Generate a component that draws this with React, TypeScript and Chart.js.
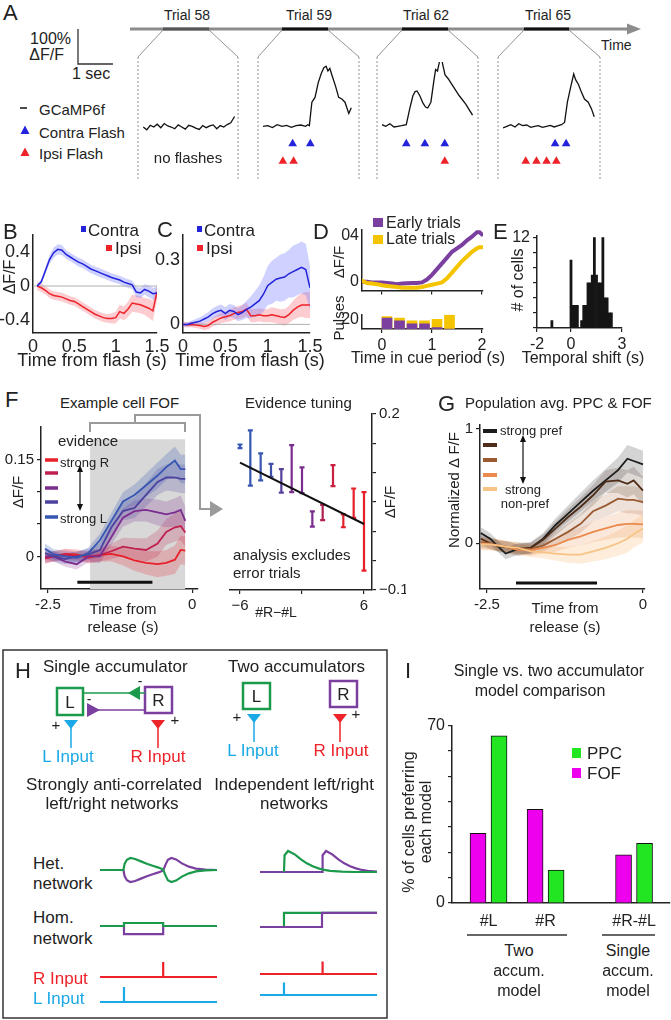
import React, { useEffect, useRef } from "react";
import { Chart, registerables } from "chart.js";
Chart.register(...registerables);

const FONT = "'Liberation Sans', Arial, Helvetica, sans-serif";
Chart.defaults.font.family = FONT;
Chart.defaults.color = "#222";

// ================= DATA =================
// Panel A: single-trial GCaMP6f traces (time s, ΔF/F in units of 100%)
const trial58T = [0.15,0.25,0.35,0.45,0.55,0.65,0.75,0.85,0.95,1.05,1.15,1.25,1.35,1.45,1.55,1.65,1.75,1.85,1.95,2.05,2.15,2.25,2.35,2.45,2.55,2.65,2.76];
const trial58V = [0.0,-0.08,0.05,0.0,0.08,-0.02,0.1,0.03,0.0,-0.05,0.06,0.0,-0.06,0.05,0.02,-0.03,-0.07,0.04,-0.02,0.03,0.06,-0.05,0.04,0.0,0.07,0.12,0.3];
const trial59T = [0.0,0.15,0.3,0.45,0.6,0.75,0.9,1.05,1.2,1.35,1.42,1.47,1.55,1.65,1.75,1.85,1.93,2.0,2.06,2.12,2.2,2.3,2.4,2.5,2.6,2.72,2.8];
const trial59V = [0.0,0.02,-0.04,0.05,0.0,0.03,-0.03,0.02,0.04,0.0,0.05,0.02,0.75,0.9,1.35,1.65,1.82,1.87,1.72,1.8,1.55,1.25,0.9,0.85,0.75,0.4,0.58];
const trial62T = [0.0,0.12,0.25,0.38,0.5,0.62,0.77,0.88,0.98,1.05,1.11,1.2,1.3,1.38,1.45,1.55,1.65,1.7,1.76,1.82,1.86,1.92,2.0,2.1,2.25,2.45,2.65,2.87];
const trial62V = [0.05,0.0,0.08,-0.02,0.0,0.02,0.05,0.55,0.95,1.08,1.1,0.95,0.72,0.6,0.57,0.75,1.45,1.77,1.72,2.0,2.4,1.95,1.6,1.48,1.25,0.95,0.7,0.35];
const trial65T = [0.0,0.12,0.25,0.38,0.5,0.62,0.75,0.88,1.0,1.12,1.25,1.38,1.5,1.62,1.75,1.85,1.95,2.04,2.14,2.24,2.3,2.39,2.47,2.58,2.7,2.8,2.89];
const trial65V = [-0.05,0.0,0.05,-0.02,0.08,0.02,0.04,-0.03,0.0,0.02,-0.03,0.0,0.03,-0.02,0.02,0.05,0.12,0.75,1.2,1.63,1.45,1.3,1.1,0.85,0.75,0.55,0.3];
const trial58Contra: number[] = [];
const trial58Ipsi: number[] = [];
const trial59Contra = [0.94, 1.5];
const trial59Ipsi = [0.63, 0.97];
const trial62Contra = [0.77, 1.36, 1.99];
const trial62Ipsi = [1.99];
const trial65Contra = [1.65, 2.0];
const trial65Ipsi = [0.72, 1.06, 1.38, 1.69];
const trialLabels = ["Trial 58", "Trial 59", "Trial 62", "Trial 65"];

// Panel B
const bT = [0.05,0.1,0.15,0.2,0.25,0.3,0.35,0.4,0.45,0.5,0.55,0.6,0.65,0.7,0.75,0.8,0.85,0.9,0.95,1.0,1.05,1.1,1.15,1.2,1.25,1.3,1.35,1.4,1.45,1.5];
const bContra = [0,0.05,0.18,0.31,0.39,0.43,0.42,0.37,0.34,0.31,0.28,0.26,0.23,0.2,0.18,0.16,0.14,0.12,0.1,0.085,0.07,0.046,0.03,0.015,-0.07,-0.08,-0.04,-0.06,-0.09,-0.08];
const bContraErr = [0.02,0.03,0.04,0.05,0.06,0.06,0.06,0.05,0.05,0.05,0.05,0.05,0.05,0.05,0.05,0.05,0.05,0.05,0.05,0.05,0.05,0.05,0.05,0.05,0.06,0.06,0.06,0.07,0.07,0.07];
const bIpsi = [0,-0.02,-0.05,-0.09,-0.11,-0.12,-0.13,-0.15,-0.17,-0.18,-0.21,-0.24,-0.27,-0.3,-0.33,-0.35,-0.37,-0.38,-0.38,-0.37,-0.3,-0.32,-0.27,-0.2,-0.21,-0.22,-0.24,-0.26,-0.29,-0.07];
const bIpsiErr = [0.05,0.05,0.05,0.05,0.05,0.05,0.05,0.05,0.05,0.05,0.05,0.05,0.05,0.05,0.05,0.05,0.05,0.05,0.06,0.07,0.08,0.08,0.09,0.1,0.1,0.1,0.1,0.11,0.12,0.1];

// Panel C
const cT = [0,0.05,0.1,0.15,0.2,0.25,0.3,0.35,0.4,0.45,0.5,0.55,0.6,0.65,0.7,0.75,0.8,0.85,0.9,0.95,1.0,1.05,1.1,1.15,1.2,1.25,1.3,1.35,1.4,1.45,1.5];
const cContra = [0,0,0.005,0.01,0.015,0.025,0.035,0.05,0.06,0.065,0.05,0.065,0.06,0.045,0.055,0.07,0.08,0.095,0.11,0.14,0.18,0.195,0.21,0.215,0.22,0.235,0.245,0.255,0.265,0.255,0.17];
const cContraErr = [0.01,0.01,0.012,0.015,0.018,0.02,0.022,0.025,0.025,0.027,0.03,0.03,0.03,0.03,0.035,0.04,0.05,0.06,0.07,0.08,0.09,0.1,0.1,0.11,0.11,0.11,0.12,0.12,0.12,0.12,0.1];
const cIpsi = [0,-0.002,0,-0.003,-0.005,-0.01,-0.005,0.01,0.02,0.03,0.035,0.04,0.05,0.055,0.06,0.07,0.04,0.04,0.045,0.04,0.04,0.045,0.04,0.035,0.032,0.045,0.065,0.08,0.09,0.09,0.09];
const cIpsiErr = [0.012,0.012,0.013,0.014,0.015,0.017,0.018,0.02,0.022,0.025,0.025,0.027,0.028,0.03,0.03,0.03,0.03,0.03,0.03,0.03,0.03,0.035,0.035,0.035,0.04,0.04,0.045,0.05,0.055,0.06,0.06];
const flashZeroT = [0, 1.5];
const flashZeroV = [0, 0];

// Panel D
const dT = [-0.4,-0.3,-0.2,-0.1,0,0.1,0.2,0.3,0.4,0.5,0.6,0.7,0.8,0.9,1.0,1.1,1.2,1.3,1.4,1.5,1.6,1.7,1.8,1.9,1.95,2.0];
const dEarly = [0,0,-0.005,-0.005,-0.005,-0.01,-0.015,-0.02,-0.015,-0.012,-0.01,-0.01,-0.005,0.02,0.06,0.11,0.16,0.21,0.26,0.29,0.32,0.36,0.39,0.43,0.43,0.41];
const dLate = [0.01,-0.01,-0.015,-0.02,-0.03,-0.035,-0.04,-0.045,-0.05,-0.05,-0.05,-0.05,-0.045,-0.035,-0.025,-0.015,-0.005,0.03,0.08,0.13,0.18,0.22,0.26,0.29,0.3,0.3];
const dPulseT = [0.1,0.35,0.6,0.85,1.1,1.35];
const dEarlyPulses = [23,17,11,11,3,0];
const dLatePulses = [26,23,17,17,20,29];

// Panel E
const eBins = [-1.125,0,0.125,0.25,0.375,0.5,0.625,0.75,0.875,1.0,1.125,1.25,1.375,1.5,1.625,1.75,1.875,2.0,2.125,2.25,2.375];
const eCounts = [1,9,3,3,3,0,1,3,3,6,6,7,12,7,6,6,12,4,4,2,2];

// Panel F (left): example cell, 5 evidence levels
const fT = [-2.55,-2.4,-2.2,-2.0,-1.8,-1.6,-1.4,-1.2,-1.0,-0.8,-0.6,-0.45,-0.3,-0.2,-0.12];
const fStrongL = [0.012,0.003,0,-0.002,0.005,0.025,0.055,0.085,0.095,0.11,0.125,0.138,0.148,0.135,0.135];
const fMidL = [0.005,0,-0.004,0,0.003,0.01,0.045,0.07,0.075,0.095,0.115,0.122,0.122,0.12,0.12];
const fNeutral = [0,0,-0.008,-0.012,0,0,0.03,0.06,0.07,0.072,0.068,0.065,0.068,0.072,0.055];
const fMidR = [-0.003,0,0.003,0,0,0.002,0.008,0.015,0.012,0.01,0.02,0.038,0.045,0.047,0.037];
const fStrongR = [-0.003,0,0.004,0.003,-0.002,0.002,0.004,0,-0.006,-0.01,-0.012,-0.01,-0.005,0.01,0.009];
const fErr = [0.008,0.008,0.008,0.008,0.009,0.01,0.012,0.014,0.016,0.018,0.02,0.02,0.022,0.022,0.022];
const fShadeT = [-1.77, -0.12];
const fShadeV = [0.181, 0.181];
const fBarT = [-1.99, -0.69];
const fBarV = [-0.04, -0.04];

// Panel F (right): evidence tuning
const tunX = [-6,-5,-4,-3,-2,-1,0,1,2,3,4,5,6];
const tunY = [0.145,0.125,0.11,0.104,0.086,0.107,0.087,0.021,0.032,0.095,0.018,0.048,0.0];
const tunErr = [0.003,0.047,0.023,0.011,0.02,0.04,0.022,0.013,0.013,0.018,0.011,0.025,0.067];
const fitX = [-6, 6];
const fitY = [0.117, 0.0125];

// Panel G
const gT = [-2.6,-2.45,-2.3,-2.2,-2.0,-1.8,-1.6,-1.4,-1.2,-1.0,-0.8,-0.6,-0.4,-0.25,-0.15,0];
const gPref = [0.09,0.04,-0.04,-0.09,-0.05,-0.04,0.04,0.16,0.26,0.36,0.46,0.55,0.64,0.74,0.72,0.69];
const gPref2 = [0.04,0,-0.03,-0.03,-0.06,-0.04,0.03,0.13,0.23,0.32,0.42,0.54,0.55,0.52,0.55,0.46];
const gMid = [0.01,0,-0.02,-0.03,-0.04,-0.05,-0.02,0.04,0.1,0.17,0.28,0.33,0.39,0.38,0.38,0.36];
const gNon2 = [0,-0.01,-0.02,-0.03,-0.06,-0.06,-0.04,-0.015,0.03,0.06,0.1,0.13,0.16,0.17,0.17,0.165];
const gNonPref = [-0.01,-0.01,-0.02,-0.03,-0.04,-0.07,-0.08,-0.09,-0.1,-0.1,-0.07,-0.04,0,0.04,0.08,0.13];
const gErr = [0.05,0.05,0.05,0.05,0.05,0.05,0.05,0.06,0.07,0.08,0.09,0.1,0.11,0.12,0.12,0.12];
const gBarT = [-2.035, -0.737];
const gBarV = [-0.348, -0.348];

// Panel H: model schematic traces (time 0..1, arbitrary units)
const hetSingleT = [0,0.2,0.21,0.23,0.26,0.3,0.35,0.4,0.45,0.5,0.54,0.56,0.58,0.61,0.65,0.7,0.76,0.82,0.9,1.0];
const hetSingleL = [0,0,0.5,0.85,1.0,0.92,0.72,0.52,0.36,0.2,0.04,-0.45,-0.85,-1.0,-0.88,-0.55,-0.28,-0.12,-0.03,0];
const hetSingleR = [0,0,-0.5,-0.85,-1.0,-0.92,-0.72,-0.52,-0.36,-0.2,-0.04,0.45,0.85,1.0,0.88,0.55,0.28,0.12,0.03,0];
const hetTwoLT = [0.205,0.21,0.24,0.3,0.35,0.4,0.45,0.5,0.55,0.6,0.7,0.8,1.0];
const hetTwoL = [0,1.4,1.75,1.45,1.05,0.72,0.48,0.3,0.17,0.09,0.03,0,0];
const hetTwoRT = [0,0.53,0.535,0.565,0.62,0.67,0.72,0.77,0.82,0.87,0.92,1.0];
const hetTwoR = [0,0,1.4,1.75,1.45,1.05,0.72,0.48,0.3,0.17,0.09,0.04];
const homSingleT = [0,0.205,0.205,0.54,0.54,1];
const homSingleL = [0,0,0.25,0.25,0,0];
const homSingleR = [0,0,-0.67,-0.67,0,0];
const homTwoLT = [0.205,0.205,1.0];
const homTwoL = [0,1.17,1.17];
const homTwoRT = [0,0.53,0.53,1.0];
const homTwoR = [0,0,1.17,1.17];
const inSingleRT = [0,0.54,0.54,0.54,1];
const inSingleLT = [0,0.205,0.205,0.205,1];
const inTwoRT = [0,0.535,0.535,0.535,1];
const inTwoLT = [0,0.205,0.205,0.205,1];
const inPulse = [0,0,1.25,0,0];
const inPulseSmall = [0,0,1.05,0,0];

// Panel I
const iCats = ["#L", "#R", "#R-#L"];
const iPos = [1, 2, 3.55];
const iFOF = [27.5, 37, 19];
const iPPC = [66, 13, 23.5];

// ================= STYLE =================
const BLUE = "#2323dc";
const BLUE_BAND = "rgba(110,115,255,0.33)";
const RED = "#ee2229";
const RED_BAND = "rgba(245,110,120,0.35)";
const PURPLE = "#7b3fa0";
const YELLOW = "#f5c400";
const GREEN_H = "#1b9a4b";
const CYAN = "#1aa8e6";
const F_COLORS = ["#3656b2", "#4a429e", "#7a2d8e", "#c0204e", "#e8202a"];
const G_COLORS = ["#1c1c1c", "#4e2c18", "#9a5a32", "#ea8a4c", "#f8c486"];
const TUN_COLORS = ["#3656b2","#3656b2","#3656b2","#3f4faa","#55409c","#7a2d8e","#7a2d8e","#7a2d8e","#b0204e","#c8203e","#e0202a","#e8202a","#e8202a"];
const PPC = "#22e622";
const FOF = "#ee00ee";

// ================= HELPERS =================
const pts = (xs: number[], ys: number[]) => xs.map((x, i) => ({ x, y: ys[i] }));
function line(xs: number[], ys: number[], color: string, width: number, extra: any = {}) {
  return { type: "line", data: pts(xs, ys), borderColor: color, borderWidth: width, pointRadius: 0, fill: false, tension: 0, order: 1, ...extra };
}
function band(xs: number[], ys: number[], err: number[], color: string) {
  return [
    { type: "line", data: pts(xs, ys.map((y, i) => y + err[i])), borderWidth: 0, borderColor: "rgba(0,0,0,0)", pointRadius: 0, backgroundColor: color, fill: "+1", order: 5 },
    { type: "line", data: pts(xs, ys.map((y, i) => y - err[i])), borderWidth: 0, borderColor: "rgba(0,0,0,0)", pointRadius: 0, fill: false, order: 5 },
  ];
}
function marks(xs: number[], row: number, color: string) {
  return { type: "line", data: xs.map((x) => ({ x, y: row })), showLine: false, pointStyle: "triangle", pointRadius: 5, backgroundColor: color, borderColor: color, borderWidth: 0, yAxisID: "yr" };
}
const hidden = (min: number, max: number, extra: any = {}) => ({ type: "linear", min, max, display: false, offset: false, ...extra });
function axis(min: number, max: number, o: any) {
  return {
    type: "linear", min, max, position: o.position, offset: false,
    afterFit: (s: any) => { if (s.isHorizontal()) s.height = o.size; else s.width = o.size; },
    afterBuildTicks: (s: any) => { s.ticks = (o.at || []).map((v: number) => ({ value: v })); },
    ticks: { display: !!o.labels, callback: (_v: any, i: number) => (o.labels ? o.labels[i] ?? "" : ""), font: { size: o.font || 15, family: FONT }, color: "#222", padding: o.pad ?? 3, autoSkip: false, maxRotation: 0, minRotation: 0 },
    grid: { display: !!o.marks, drawOnChartArea: false, drawTicks: !!o.marks, tickLength: 4, color: "#222", lineWidth: 1.2, offset: false },
    border: { display: true, color: "#222", width: 1.5 },
  };
}
function cfg(type: string, datasets: any[], scales: any, padding: any, plugins: any[] = []) {
  return {
    type, data: { datasets }, plugins,
    options: { animation: false, responsive: false, devicePixelRatio: 1, events: [], layout: { padding },
      plugins: { legend: { display: false }, tooltip: { enabled: false } }, scales },
  };
}

function Panel({ rect, pads, config }: { rect: number[]; pads: number[]; config: any }) {
  const ref = useRef<HTMLCanvasElement>(null);
  const [l, t, r, b] = rect;
  const w = r - l + pads[0] + pads[2];
  const h = b - t + pads[1] + pads[3];
  useEffect(() => {
    const c = new Chart(ref.current as HTMLCanvasElement, config);
    return () => c.destroy();
  }, []);
  return <canvas ref={ref} width={w} height={h} style={{ position: "absolute", left: l - pads[0], top: t - pads[1], width: w, height: h }} />;
}

function T({ x, y, s = 15, c = "#222", a = "l", rot = false, children }: any) {
  const tx = a === "l" ? "0" : a === "c" ? "-50%" : "-100%";
  return (
    <div style={{ position: "absolute", left: x, top: y, fontSize: s, color: c, whiteSpace: "nowrap", lineHeight: 1, fontFamily: FONT,
      transform: rot ? "translate(-50%,-50%) rotate(-90deg)" : `translate(${tx},-50%)` }}>{children}</div>
  );
}

// ================= LAYOUT (page px) =================
const A_BOXES = [[138, 238], [258, 359], [377, 478], [498, 600]];
const A_SEGS = [[163, 209], [282, 328], [402, 448], [524, 569]];
const A_LABEL_X = [187, 309, 426, 548];
const A_TOP = 57, A_BOT = 180, PX_PER_S = 35;

const aTraces = [
  [trial58T, trial58V, trial58Contra, trial58Ipsi],
  [trial59T, trial59V, trial59Contra, trial59Ipsi],
  [trial62T, trial62V, trial62Contra, trial62Ipsi],
  [trial65T, trial65V, trial65Contra, trial65Ipsi],
];

function aConfig(i: number) {
  const [t, v, con, ips] = aTraces[i] as any;
  const w = A_BOXES[i][1] - A_BOXES[i][0];
  return cfg("line", [line(t, v, "#111", 1.3), marks(con, 1, BLUE), marks(ips, 2, RED)], {
    x: hidden(0, w / PX_PER_S), y: hidden(-1.514, 2.0), yr: hidden(-3.684, 2.789, { reverse: true }),
  }, 0);
}

const errorBars = {
  id: "errbars",
  beforeDatasetsDraw(chart: any) {
    const ctx = chart.ctx, xs = chart.scales.x, ys = chart.scales.y;
    tunX.forEach((x, i) => {
      const px = xs.getPixelForValue(x);
      const lo = ys.getPixelForValue(tunY[i] - tunErr[i]);
      const hi = ys.getPixelForValue(tunY[i] + tunErr[i]);
      ctx.save();
      ctx.strokeStyle = TUN_COLORS[i];
      ctx.lineWidth = 2.2;
      ctx.beginPath();
      ctx.moveTo(px, lo); ctx.lineTo(px, hi);
      ctx.moveTo(px - 2.5, lo); ctx.lineTo(px + 2.5, lo);
      ctx.moveTo(px - 2.5, hi); ctx.lineTo(px + 2.5, hi);
      ctx.stroke();
      ctx.restore();
    });
  },
};

const bCfg = cfg("line", [
  ...band(bT, bContra, bContraErr, BLUE_BAND), ...band(bT, bIpsi, bIpsiErr, RED_BAND),
  line(flashZeroT, flashZeroV, "#b0b0b0", 1, { order: 3 }),
  line(bT, bContra, BLUE, 1.5), line(bT, bIpsi, RED, 1.5),
], {
  x: axis(0, 1.5, { size: 30, at: [0, 0.5, 1, 1.5], labels: ["0", "0.5", "1", "1.5"], font: 18 }),
  y: axis(-0.55, 0.6, { size: 33, at: [-0.4, 0, 0.4], labels: ["-0.4", "0", "0.4"], font: 18 }),
}, { top: 10, right: 16, left: 0, bottom: 0 });

const cCfg = cfg("line", [
  ...band(cT, cContra, cContraErr, BLUE_BAND), ...band(cT, cIpsi, cIpsiErr, RED_BAND),
  line(flashZeroT, flashZeroV, "#b0b0b0", 1, { order: 3 }),
  line(cT, cContra, BLUE, 1.5), line(cT, cIpsi, RED, 1.5),
], {
  x: axis(0, 1.5, { size: 30, at: [0, 0.5, 1, 1.5], labels: ["0", "0.5", "1", "1.5"], font: 18 }),
  y: axis(-0.04, 0.416, { size: 30, at: [0, 0.3], labels: ["0", "0.3"], font: 18 }),
}, { top: 10, right: 16, left: 0, bottom: 0 });

const dTopCfg = cfg("line", [
  line(dT, dLate, YELLOW, 4, { borderCapStyle: "round" }), line(dT, dEarly, PURPLE, 4, { borderCapStyle: "round" }),
], {
  x: axis(-0.4, 2.02, { size: 5, at: [0, 1, 2], marks: true }),
  y: axis(-0.074, 0.452, { size: 30, at: [0, 0.4], labels: ["0", "04"], font: 16 }),
}, { top: 10, right: 10, left: 0, bottom: 0 });

const dBotCfg = cfg("bar", [
  { data: pts(dPulseT, dEarlyPulses), backgroundColor: PURPLE, barThickness: 10, grouped: false },
  { data: pts(dPulseT, dLatePulses), backgroundColor: YELLOW, barThickness: 10, grouped: false },
], {
  x: axis(-0.4, 2.02, { size: 28, at: [0, 1, 2], labels: ["0", "1", "2"], font: 16, marks: true }),
  y: axis(0, 30, { size: 30, at: [20], labels: ["20"], font: 16 }),
}, { top: 6, right: 12, left: 0, bottom: 0 });

const eCfg = cfg("bar", [
  { data: pts(eBins, eCounts), backgroundColor: "#151515", barPercentage: 1, categoryPercentage: 1 },
], {
  x: axis(-2, 3, { size: 28, at: [-2, 0, 3], labels: ["-2", "0", "3"], font: 16, marks: true }),
  y: axis(0, 12.25, { size: 25, at: [0, 2, 4, 6, 8, 10, 12], labels: ["", "", "", "", "", "", "12"], font: 16, marks: true }),
}, { top: 10, right: 12, left: 0, bottom: 0 });

const fSeries = [fStrongL, fMidL, fNeutral, fMidR, fStrongR];
const fBandColors = ["rgba(54,86,178,0.25)", "rgba(74,66,158,0.22)", "rgba(122,45,142,0.22)", "rgba(192,32,78,0.22)", "rgba(232,32,42,0.22)"];
const fLeftCfg = cfg("line", [
  line(fShadeT, fShadeV, "rgba(0,0,0,0)", 0, { fill: "start", backgroundColor: "#d8d8d8", order: 10 }),
  ...fSeries.flatMap((s, i) => band(fT, s, fErr, fBandColors[i])),
  ...fSeries.map((s, i) => line(fT, s, F_COLORS[i], 1.8)),
  line(fBarT, fBarV, "#111", 3, { order: 0 }),
], {
  x: axis(-2.62, 0.1, { size: 22, at: [-2.5, 0], labels: ["-2.5", "0"], font: 15, marks: true }),
  y: axis(-0.0503, 0.2, { size: 40, at: [0, 0.05, 0.1, 0.15], labels: ["0", "", "", "0.15"], font: 15, marks: true }),
}, { top: 10, right: 10, left: 0, bottom: 0 });

const fRightCfg = cfg("line", [
  line(fitX, fitY, "#111", 2),
], {
  x: axis(-6.968, 6.774, { size: 22, at: [-6, 0, 6], labels: ["\u22126", "", "6"], font: 15, marks: true }),
  y: axis(-0.1, 0.2, { size: 34, position: "right", at: [-0.1, -0.05, 0, 0.05, 0.1, 0.15, 0.2], labels: ["\u22120.1", "", "", "", "", "", "0.2"], font: 15, marks: true }),
}, { top: 10, right: 0, left: 10, bottom: 0 }, [errorBars]);

const gSeries = [gPref, gPref2, gMid, gNon2, gNonPref];
const gBandColors = ["rgba(40,40,40,0.2)", "rgba(78,44,24,0.18)", "rgba(154,90,50,0.18)", "rgba(234,138,76,0.2)", "rgba(248,196,134,0.3)"];
const gCfg = cfg("line", [
  ...gSeries.flatMap((s, i) => band(gT, s, gErr, gBandColors[i])),
  ...gSeries.map((s, i) => line(gT, s, G_COLORS[i], 1.8)).reverse(),
  line(gBarT, gBarV, "#111", 3, { order: 0 }),
], {
  x: axis(-2.612, 0.032, { size: 22, at: [-2.5, 0], labels: ["-2.5", "0"], font: 15, marks: true }),
  y: axis(-0.4, 1.035, { size: 26, at: [0, 1], labels: ["0", "1"], font: 15, marks: true }),
}, { top: 10, right: 12, left: 0, bottom: 0 });

const I_HALF = 0.184;
const iCfg = cfg("bar", [
  { data: pts(iPos.map((p) => p - I_HALF), iFOF), backgroundColor: FOF, borderColor: "#111", borderWidth: 1, barThickness: 16, grouped: false },
  { data: pts(iPos.map((p) => p + I_HALF), iPPC), backgroundColor: PPC, borderColor: "#111", borderWidth: 1, barThickness: 16, grouped: false },
], {
  x: axis(0.36, 4.18, { size: 30, at: iPos, labels: iCats, font: 16, pad: 9 }),
  y: axis(0, 70, { size: 24, at: [0, 10, 20, 30, 40, 50, 60, 70], labels: ["0", "", "", "", "", "", "", "70"], font: 16, marks: true }),
}, { top: 10, right: 1, left: 0, bottom: 0 });

function hCfg(sets: any[], lo: number, hi: number) {
  return cfg("line", sets, { x: hidden(0, 1), y: hidden(lo, hi) }, 0);
}
const H_CHARTS: any[] = [
  { rect: [100, 846, 217, 894], config: hCfg([line(hetSingleT, hetSingleR, PURPLE, 2.2, { order: 2 }), line(hetSingleT, hetSingleL, GREEN_H, 2.2)], -2, 2) },
  { rect: [100, 902, 217, 950], config: hCfg([line(homSingleT, homSingleR, PURPLE, 2.2, { order: 2 }), line(homSingleT, homSingleL, GREEN_H, 2.2)], -2, 2) },
  { rect: [100, 959, 217, 983], config: hCfg([line(inSingleRT, inPulse, RED, 2.2)], -0.5, 1.5) },
  { rect: [100, 984, 217, 1008], config: hCfg([line(inSingleLT, inPulse, CYAN, 2.2)], -0.5, 1.5) },
  { rect: [260, 848, 377, 896], config: hCfg([line(hetTwoRT, hetTwoR, PURPLE, 2.2, { order: 2 }), line(hetTwoLT, hetTwoL, GREEN_H, 2.2)], -2, 2) },
  { rect: [260, 903, 377, 951], config: hCfg([line(homTwoLT, homTwoL, GREEN_H, 2.2, { order: 2 }), line(homTwoRT, homTwoR, PURPLE, 2.2)], -2, 2) },
  { rect: [260, 956, 377, 980], config: hCfg([line(inTwoRT, inPulseSmall, RED, 2.2)], -0.5, 1.5) },
  { rect: [260, 977, 377, 1001], config: hCfg([line(inTwoLT, inPulseSmall, CYAN, 2.2)], -0.5, 1.5) },
];

function Decor() {
  const g = "#8c8c8c";
  return (
    <svg width={671} height={1020} style={{ position: "absolute", left: 0, top: 0 }}>
      {/* A: timeline */}
      <line x1={130} y1={29} x2={630} y2={29} stroke={g} strokeWidth={3} />
      <polygon points="627,23.5 641,29 627,34.5" fill={g} />
      {A_SEGS.map(([a, b], i) => <line key={"s" + i} x1={a} y1={29} x2={b} y2={29} stroke={i === 0 ? "#555" : "#111"} strokeWidth={3} />)}
      {A_BOXES.map(([a, b], i) => (
        <g key={"b" + i} stroke="#777" strokeWidth={0.8} fill="none">
          <line x1={A_SEGS[i][0]} y1={30} x2={a} y2={A_TOP} />
          <line x1={A_SEGS[i][1]} y1={30} x2={b} y2={A_TOP} />
          <line x1={a} y1={A_TOP} x2={a} y2={A_BOT} strokeDasharray="2 2" />
          <line x1={b} y1={A_TOP} x2={b} y2={A_BOT} strokeDasharray="2 2" />
        </g>
      ))}
      <path d="M78 29 V64 H113" stroke="#333" strokeWidth={1.3} fill="none" />
      <line x1={20} y1={108} x2={27} y2={108} stroke="#111" strokeWidth={1.5} />
      <polygon points="20.5,134 29.5,134 25,125.5" fill={BLUE} />
      <polygon points="20.5,156 29.5,156 25,147.5" fill={RED} />
      {/* B, C, D legends */}
      <rect x={81} y={226} width={5} height={6} fill={BLUE} />
      <rect x={106} y={245} width={6} height={6} fill={RED} />
      <rect x={197} y={226} width={5} height={6} fill={BLUE} />
      <rect x={197} y={245} width={6} height={6} fill={RED} />
      <rect x={373} y={218} width={10} height={9} fill={PURPLE} />
      <rect x={373} y={235} width={10} height={9} fill={YELLOW} />
      {/* F decorations */}
      <path d="M90 432 V423 H185 V432" stroke="#9a9a9a" strokeWidth={2} fill="none" />
      <path d="M135 423 V415 H200 V509 H211" stroke="#9a9a9a" strokeWidth={2} fill="none" />
      <polygon points="210,501 223,509 210,517" fill="#9a9a9a" />
      {F_COLORS.slice().reverse().map((c, i) => <line key={"fl" + i} x1={45} x2={58} y1={[460, 473, 488, 502, 517][i]} y2={[460, 473, 488, 502, 517][i]} stroke={c} strokeWidth={3.5} />)}
      <line x1={80} y1={469} x2={80} y2={507} stroke="#111" strokeWidth={1.2} />
      <polygon points="77,472 80,465 83,472" fill="#111" />
      <polygon points="77,504 80,511 83,504" fill="#111" />
      {/* G legend */}
      {G_COLORS.map((c, i) => <line key={"gl" + i} x1={483} x2={497} y1={[431, 445, 460, 475, 489][i]} y2={[431, 445, 460, 475, 489][i]} stroke={c} strokeWidth={4} />)}
      <line x1={523} y1={440} x2={523} y2={479} stroke="#111" strokeWidth={1.2} />
      <polygon points="520,442 523,435 526,442" fill="#111" />
      <polygon points="520,477 523,484 526,477" fill="#111" />
      {/* H box and schematic */}
      <rect x={3} y={650} width={384} height={368} stroke="#333" strokeWidth={1.5} fill="none" />
      <rect x={57} y={688} width={26} height={27} stroke={GREEN_H} strokeWidth={2.5} fill="none" />
      <rect x={145} y={687} width={27} height={26} stroke={PURPLE} strokeWidth={2.5} fill="none" />
      <line x1={83} y1={693} x2={145} y2={693} stroke={GREEN_H} strokeWidth={1.6} />
      <polygon points="128,693 140,686 140,700" fill={GREEN_H} />
      <line x1={95} y1={710} x2={145} y2={710} stroke={PURPLE} strokeWidth={1.6} />
      <polygon points="87,703 87,717 100,710" fill={PURPLE} />
      <polygon points="64,720 78,720 71,729" fill={CYAN} />
      <line x1={71} y1={728} x2={71} y2={748} stroke={CYAN} strokeWidth={1.5} />
      <polygon points="151,720 165,720 158,729" fill={RED} />
      <line x1={158} y1={728} x2={158} y2={748} stroke={RED} strokeWidth={1.5} />
      <rect x={243} y={683} width={27} height={26} stroke={GREEN_H} strokeWidth={2.5} fill="none" />
      <rect x={330} y={681} width={27} height={26} stroke={PURPLE} strokeWidth={2.5} fill="none" />
      <polygon points="247,714 261,714 254,723" fill={CYAN} />
      <line x1={254} y1={722} x2={254} y2={742} stroke={CYAN} strokeWidth={1.5} />
      <polygon points="333,714 347,714 340,723" fill={RED} />
      <line x1={340} y1={722} x2={340} y2={742} stroke={RED} strokeWidth={1.5} />
      {/* I decorations */}
      <line x1={467} y1={935} x2={567} y2={935} stroke="#333" strokeWidth={1.5} />
      <line x1={602} y1={935} x2={655} y2={935} stroke="#333" strokeWidth={1.5} />
      <rect x={572} y={748} width={9} height={10} fill={PPC} />
      <rect x={572} y={768} width={9} height={10} fill={FOF} />
    </svg>
  );
}

export default function App() {
  return (
    <div style={{ position: "absolute", left: 0, top: 0, width: 671, height: 1020, overflow: "hidden", background: "#fff", fontFamily: FONT }}>
      <Decor />
      {A_BOXES.map(([a, b], i) => <Panel key={"a" + i} rect={[a, A_TOP, b, A_BOT]} pads={[0, 0, 0, 0]} config={aConfig(i)} />)}
      <Panel rect={[33, 231, 157, 333]} pads={[33, 10, 16, 30]} config={bCfg} />
      <Panel rect={[183, 231, 310, 333]} pads={[30, 10, 16, 30]} config={cCfg} />
      <Panel rect={[362, 227, 483, 298]} pads={[30, 10, 10, 5]} config={dTopCfg} />
      <Panel rect={[362, 308, 483, 329]} pads={[30, 6, 12, 28]} config={dBotCfg} />
      <Panel rect={[537, 233, 622, 328]} pads={[25, 10, 12, 28]} config={eCfg} />
      <Panel rect={[41, 425, 198, 589]} pads={[40, 10, 10, 22]} config={fLeftCfg} />
      <Panel rect={[230, 412, 372, 590]} pads={[10, 10, 34, 22]} config={fRightCfg} />
      <Panel rect={[480, 423, 645, 589]} pads={[26, 10, 12, 22]} config={gCfg} />
      <Panel rect={[452, 723, 670, 903]} pads={[24, 10, 1, 30]} config={iCfg} />
      {H_CHARTS.map((h, i) => <Panel key={"h" + i} rect={h.rect} pads={[0, 0, 0, 0]} config={h.config} />)}

      {/* Panel A text */}
      <T x={3} y={13} s={22}>A</T>
      {trialLabels.map((t, i) => <T key={t} x={A_LABEL_X[i]} y={15} s={14} a="c">{t}</T>)}
      <T x={601} y={45} s={14}>Time</T>
      <T x={71} y={39} s={16} a="r">100%</T>
      <T x={64} y={55} s={16} a="r">ΔF/F</T>
      <T x={72} y={74} s={16}>1 sec</T>
      <T x={39} y={109} s={15}>GCaMP6f</T>
      <T x={39} y={132} s={15}>Contra Flash</T>
      <T x={39} y={153} s={15}>Ipsi Flash</T>
      <T x={188} y={157} s={15} a="c">no flashes</T>

      {/* B, C */}
      <T x={3} y={232} s={22}>B</T>
      <T x={88} y={230} s={17}>Contra</T>
      <T x={115} y={248} s={17}>Ipsi</T>
      <T x={10} y={277} s={16} rot>ΔF/F</T>
      <T x={92} y={360} s={18} a="c">Time from flash (s)</T>
      <T x={157} y={230} s={22}>C</T>
      <T x={204} y={230} s={17}>Contra</T>
      <T x={206} y={248} s={17}>Ipsi</T>
      <T x={250} y={360} s={18} a="c">Time from flash (s)</T>

      {/* D, E */}
      <T x={313} y={232} s={22}>D</T>
      <T x={386} y={223} s={16}>Early trials</T>
      <T x={386} y={239} s={16}>Late trials</T>
      <T x={338} y={262} s={15} rot>ΔF/F</T>
      <T x={338} y={318} s={15} rot>Pulses</T>
      <T x={428} y={358} s={16} a="c">Time in cue period (s)</T>
      <T x={493} y={232} s={22}>E</T>
      <T x={518} y={280} s={16} rot># of cells</T>
      <T x={583} y={358} s={16} a="c">Temporal shift (s)</T>

      {/* F */}
      <T x={5} y={400} s={22}>F</T>
      <T x={60} y={402} s={15}>Example cell  FOF</T>
      <T x={245} y={402} s={15}>Evidence tuning</T>
      <T x={58} y={440} s={15}>evidence</T>
      <T x={60} y={462} s={13}>strong R</T>
      <T x={60} y={518} s={13}>strong L</T>
      <T x={17} y={492} s={15} rot>ΔF/F</T>
      <T x={123} y={608} s={15} a="c">Time from</T>
      <T x={123} y={626} s={15} a="c">release  (s)</T>
      <T x={389} y={502} s={15} rot>ΔF/F</T>
      <T x={233} y={554} s={15}>analysis excludes</T>
      <T x={233} y={572} s={15}>error trials</T>
      <T x={276} y={612} s={14} a="c">#R−#L</T>

      {/* G */}
      <T x={438} y={404} s={22}>G</T>
      <T x={465} y={402} s={15}>Population avg. PPC &amp; FOF</T>
      <T x={453} y={490} s={15} rot>Normalized Δ F/F</T>
      <T x={500} y={430} s={13}>strong pref</T>
      <T x={523} y={489} s={13} a="c">strong</T>
      <T x={525} y={503} s={13} a="c">non-pref</T>
      <T x={565} y={607} s={15} a="c">Time from</T>
      <T x={565} y={626} s={15} a="c">release  (s)</T>

      {/* H */}
      <T x={15} y={671} s={22}>H</T>
      <T x={43} y={666} s={17}>Single accumulator</T>
      <T x={228} y={666} s={17}>Two accumulators</T>
      <T x={70} y={702} s={17} a="c">L</T>
      <T x={158.5} y={700} s={17} a="c">R</T>
      <T x={256.5} y={696} s={17} a="c">L</T>
      <T x={343.5} y={694} s={17} a="c">R</T>
      <T x={140} y={681} s={14} a="c">-</T>
      <T x={89} y={699} s={14} a="c">-</T>
      <T x={56} y={724} s={15} a="c">+</T>
      <T x={175} y={719} s={15} a="c">+</T>
      <T x={237} y={716} s={15} a="c">+</T>
      <T x={356} y={713} s={15} a="c">+</T>
      <T x={68} y={756} s={17} a="c" c={CYAN}>L Input</T>
      <T x={158} y={756} s={17} a="c" c={RED}>R Input</T>
      <T x={253} y={750} s={17} a="c" c={CYAN}>L Input</T>
      <T x={341} y={750} s={17} a="c" c={RED}>R Input</T>
      <T x={114} y={784} s={17} a="c">Strongly anti-correlated</T>
      <T x={112} y={803} s={17} a="c">left/right networks</T>
      <T x={294} y={784} s={17} a="c">Independent left/right</T>
      <T x={294} y={803} s={17} a="c">networks</T>
      <T x={33} y={863} s={17}>Het.</T>
      <T x={33} y={883} s={17}>network</T>
      <T x={33} y={917} s={17}>Hom.</T>
      <T x={33} y={938} s={17}>network</T>
      <T x={33} y={978} s={17} c={RED}>R Input</T>
      <T x={33} y={998} s={17} c={CYAN}>L Input</T>

      {/* I */}
      <T x={405} y={671} s={22}>I</T>
      <T x={549} y={671} s={16} a="c">Single vs. two accumulator</T>
      <T x={540} y={691} s={16} a="c">model comparison</T>
      <T x={409} y={822} s={16} rot>% of cells preferring</T>
      <T x={426} y={822} s={16} rot>each model</T>
      <T x={587} y={753} s={17}>PPC</T>
      <T x={587} y={773} s={17}>FOF</T>
      <T x={519} y={951} s={16} a="c">Two</T>
      <T x={519} y={971} s={16} a="c">accum.</T>
      <T x={519} y={991} s={16} a="c">model</T>
      <T x={628} y={951} s={16} a="c">Single</T>
      <T x={628} y={971} s={16} a="c">accum.</T>
      <T x={628} y={991} s={16} a="c">model</T>
    </div>
  );
}
